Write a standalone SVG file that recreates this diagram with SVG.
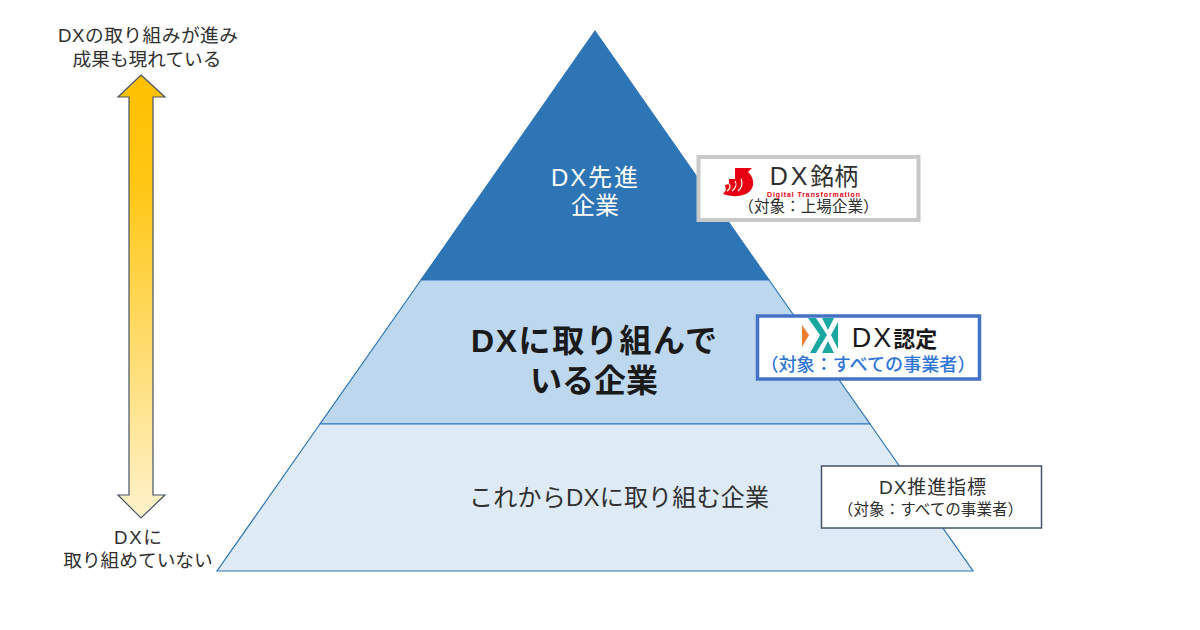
<svg xmlns="http://www.w3.org/2000/svg" width="1200" height="630" viewBox="0 0 1200 630">
<style>
text{font-family:"Liberation Sans","Noto Sans CJK JP",sans-serif;fill:#303030;text-anchor:middle}
.s{font-size:18.7px}
.m{font-size:24px}
.tier{stroke:#2e75b6;stroke-width:1.2}
.big{font-size:32px;font-weight:700;fill:#1a1a1a}
</style>
<defs>
<linearGradient id="g" x1="0" y1="0" x2="0" y2="1">
<stop offset="0" stop-color="#ffc000"/>
<stop offset="0.25" stop-color="#ffc715"/>
<stop offset="1" stop-color="#fff2cc"/>
</linearGradient>
</defs>
<rect width="1200" height="630" fill="#fff"/>
<g id="axis">
<path d="M141 75L165 97H153V495H165L141 518L118 495H129V97H118Z" fill="url(#g)" stroke="#44546a" stroke-width="1.2"/>
<text class="s" x="148" y="42" textLength="180">DXの取り組みが進み</text>
<text class="s" x="147" y="66">成果も現れている</text>
<text class="s" x="138" y="544" textLength="48">DXに</text>
<text class="s" x="138" y="567">取り組めていない</text>
</g>
<g id="tier-top">
<path class="tier" d="M595 31L769 280H421Z" fill="#2e75b6"/>
<text class="m" x="594.500" y="186" textLength="87" style="fill:#fff">DX先進</text>
<text class="m" x="595" y="214" style="fill:#fff">企業</text>
</g>
<g id="tier-middle">
<path class="tier" d="M421 280H769L870 424H320Z" fill="#bdd7ee"/>
<text class="big" x="594" y="352" textLength="246">DXに取り組んで</text>
<text class="big" x="594" y="392">いる企業</text>
</g>
<g id="tier-bottom">
<path class="tier" d="M320 424H870L973 571H217Z" fill="#deebf7"/>
<text class="m" x="619" y="506" textLength="300">これからDXに取り組む企業</text>
</g>
<g id="badge-meigara">
<rect x="698.500" y="157" width="220" height="63" fill="#fff" stroke="#c9c9c9" stroke-width="4"/>
<path d="M735 168H752L748 172C754 177 755 186 750 191C745 196 735 198 723 194L726 190L725 185L729 184L729 179L735 179Z" fill="#e60012"/>
<path d="M741 179C743 183 742 188 738 191M735 181C737 184 736 188 732 191M729 184C731 186 730 189 727 191" fill="none" stroke="#fff" stroke-width="1.200"/>
<text x="814" y="185" style="font-size:24px"><tspan style="font-size:25px;letter-spacing:3px">DX</tspan>銘柄</text>
<text x="813.500" y="197" textLength="93" style="font-size:7px;font-weight:700;fill:#e60012">Digital Transformation</text>
<text x="808.500" y="212" style="font-size:15.600px">（対象：上場企業）</text>
</g>
<g id="badge-nintei">
<rect x="757.500" y="316" width="222" height="63" fill="#fff" stroke="#4472c4" stroke-width="3.500"/>
<path d="M802 325L809 335L802 347Z" fill="#ed7d31"/>
<path d="M808 318H816L827 335L816 353H810L820 335ZM822 318H834L828 330ZM838 322V349L831 335ZM822 353H834L828 341Z" fill="#1aa7a0"/>
<text x="894.500" y="347" style="font-size:22px;font-weight:700;fill:#1a1a1a"><tspan style="font-size:27px;font-weight:400;letter-spacing:2px">DX</tspan>認定</text>
<text x="868" y="371" style="font-size:18.100px;font-weight:500;fill:#2e75d6">（対象：すべての事業者）</text>
</g>
<g id="badge-shihyo">
<rect x="821.500" y="466" width="220" height="62" fill="#fff" stroke="#44546a" stroke-width="1.500"/>
<text x="932.500" y="494" textLength="107" style="font-size:19px">DX推進指標</text>
<text x="930.500" y="515" style="font-size:15.600px">（対象：すべての事業者）</text>
</g>
</svg>
